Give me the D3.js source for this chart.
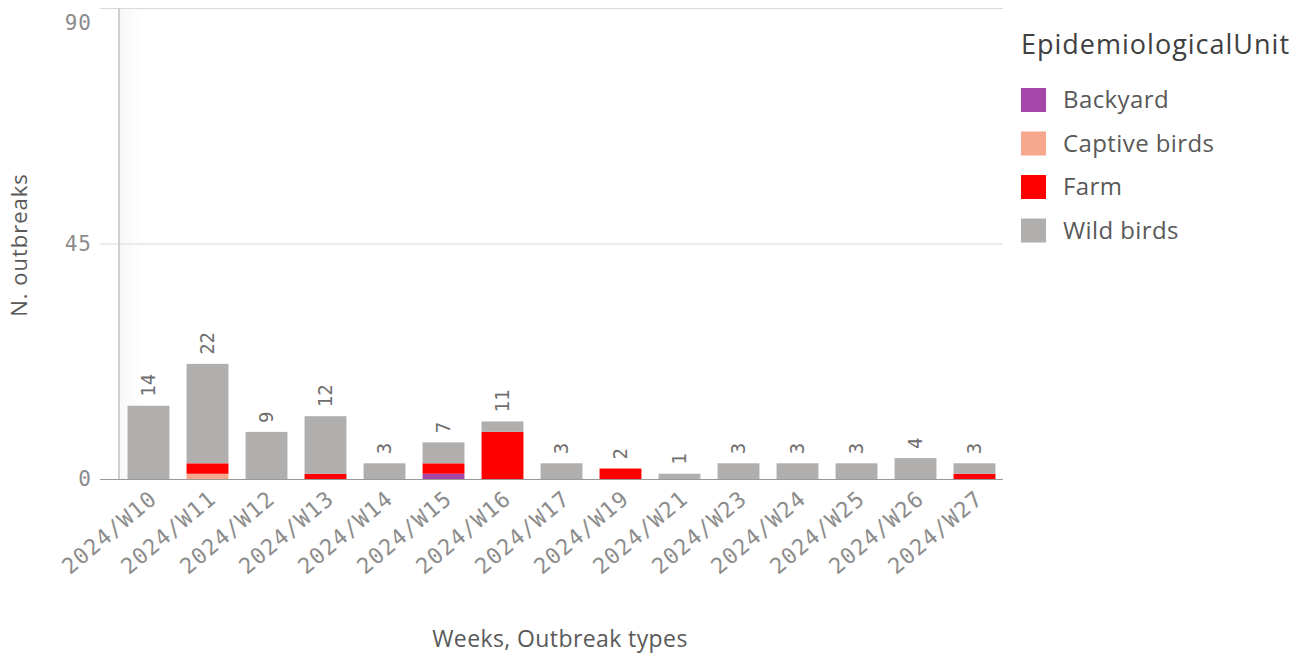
<!DOCTYPE html>
<html>
<head>
<meta charset="utf-8">
<script src="https://cdn.jsdelivr.net/npm/d3@7"></script>
<style>
  body { margin: 0; background: #fff; }
  svg { display: block; }
</style>
</head>
<body>
<svg width="1312" height="657"></svg>
<script>
// Weeks and outbreak counts per epidemiological unit
var weeks = ['2024/W10', '2024/W11', '2024/W12', '2024/W13', '2024/W14', '2024/W15', '2024/W16',
  '2024/W17', '2024/W19', '2024/W21', '2024/W23', '2024/W24', '2024/W25', '2024/W26', '2024/W27'];
var units = ['Backyard', 'Captive birds', 'Farm', 'Wild birds'];
var backyard = [0, 0, 0, 0, 0, 1, 0, 0, 0, 0, 0, 0, 0, 0, 0];
var captive  = [0, 1, 0, 0, 0, 0, 0, 0, 0, 0, 0, 0, 0, 0, 0];
var farm     = [0, 2, 0, 1, 0, 2, 9, 0, 2, 0, 0, 0, 0, 0, 1];
var wild     = [14, 19, 9, 11, 3, 4, 2, 3, 0, 1, 3, 3, 3, 4, 2];
var yTicks = [0, 45, 90];
var unitColors = ['#a546a8', '#f7a78b', '#ff0000', '#b0afae'];

var svg = d3.select('svg');
var monoFont = '"DejaVu Sans Mono", monospace';
var sansFont = '"Open Sans", sans-serif';

// Plot area
var plot = { left: 119, right: 1004, top: 8, bottom: 479 };

var rows = weeks.map(function(w, i) {
  return { week: w, 'Backyard': backyard[i], 'Captive birds': captive[i], 'Farm': farm[i], 'Wild birds': wild[i] };
});
var stack = d3.stack().keys(units)(rows);

var x = d3.scaleBand().domain(weeks)
  .range([plot.left, plot.right])
  .paddingInner(0.29).paddingOuter(0.145);
var y = d3.scaleLinear().domain([0, 90]).range([plot.bottom, plot.top]);
var color = d3.scaleOrdinal().domain(units).range(unitColors);

// Soft shadow inside the left edge
var grad = svg.append('defs').append('linearGradient').attr('id', 'shade');
grad.append('stop').attr('offset', '0%').attr('stop-color', '#000').attr('stop-opacity', 0.03);
grad.append('stop').attr('offset', '100%').attr('stop-color', '#000').attr('stop-opacity', 0);
svg.append('rect')
  .attr('x', plot.left).attr('y', plot.top)
  .attr('width', 26).attr('height', plot.bottom - plot.top)
  .attr('fill', 'url(#shade)');

// Y axis with grid lines
var yAxis = svg.append('g')
  .attr('transform', 'translate(' + plot.left + ',0)')
  .call(d3.axisLeft(y).tickValues(yTicks).tickSize(19).tickPadding(8));
yAxis.select('.domain').remove();
yAxis.selectAll('.tick line')
  .attr('x2', plot.right - plot.left - 1)
  .attr('x1', -19)
  .attr('stroke', function(d) { return d === 0 ? '#999' : '#d9d9d9'; });
yAxis.selectAll('.tick text')
  .attr('x', -27)
  .attr('dy', function(d) { return d === 90 ? '1.0em' : '0.32em'; })
  .style('font-family', monoFont).style('font-size', '21px')
  .style('letter-spacing', '1px')
  .attr('fill', '#8c8c8c');

// Vertical axis line
svg.append('line')
  .attr('x1', plot.left).attr('x2', plot.left)
  .attr('y1', plot.top).attr('y2', plot.bottom)
  .attr('stroke', '#d0d0d0').attr('stroke-width', 2);

// Stacked bars
svg.append('g').selectAll('g')
  .data(stack)
  .enter().append('g')
  .attr('fill', function(d) { return color(d.key); })
  .selectAll('rect')
  .data(function(d) { return d; })
  .enter().append('rect')
  .attr('x', function(d) { return x(d.data.week); })
  .attr('y', function(d) { return y(d[1]); })
  .attr('width', x.bandwidth())
  .attr('height', function(d) { return y(d[0]) - y(d[1]); });

// Totals above bars
svg.append('g').selectAll('text')
  .data(rows)
  .enter().append('text')
  .attr('transform', function(d) {
    var tot = d3.sum(units, function(k) { return d[k]; });
    return 'translate(' + (x(d.week) + x.bandwidth() / 2) + ',' + (y(tot) - 9) + ') rotate(-90)';
  })
  .attr('dy', '0.35em')
  .style('font-family', monoFont).style('font-size', '19px')
  .attr('fill', '#6e6e6e')
  .text(function(d) { return d3.sum(units, function(k) { return d[k]; }); });

// X labels, slanted
svg.append('g').selectAll('text')
  .data(weeks)
  .enter().append('text')
  .attr('transform', function(d) {
    return 'translate(' + (x(d) + x.bandwidth() / 2 + 10) + ',' + (plot.bottom + 22) + ') rotate(-40)';
  })
  .attr('text-anchor', 'end')
  .style('font-family', monoFont).style('font-size', '22px')
  .style('letter-spacing', '1.2px')
  .attr('fill', '#8c8c8c')
  .text(function(d) { return d; });

// Axis titles
svg.append('text')
  .attr('transform', 'translate(27,245) rotate(-90)')
  .attr('text-anchor', 'middle')
  .style('font-family', sansFont).style('font-size', '22px')
  .style('letter-spacing', '1px')
  .attr('fill', '#595959')
  .text('N. outbreaks');
svg.append('text')
  .attr('x', 560).attr('y', 647)
  .attr('text-anchor', 'middle')
  .style('font-family', sansFont).style('font-size', '23px')
  .style('letter-spacing', '0.4px')
  .attr('fill', '#595959')
  .text('Weeks, Outbreak types');

// Legend
var legend = svg.append('g').attr('transform', 'translate(1021,0)');
legend.append('text')
  .attr('x', 0).attr('y', 54)
  .style('font-family', sansFont).style('font-size', '27px')
  .style('letter-spacing', '1px')
  .attr('fill', '#404040')
  .text('EpidemiologicalUnit');
var item = legend.selectAll('g.item')
  .data(units)
  .enter().append('g')
  .attr('class', 'item')
  .attr('transform', function(d, i) { return 'translate(0,' + (100 + i * 43.5) + ')'; });
item.append('rect')
  .attr('x', 0).attr('y', -12)
  .attr('width', 25).attr('height', 24)
  .attr('fill', function(d) { return color(d); });
item.append('text')
  .attr('x', 42).attr('dy', '0.35em')
  .style('font-family', sansFont).style('font-size', '24px')
  .style('letter-spacing', '0.4px')
  .attr('fill', '#595959')
  .text(function(d) { return d; });
</script>
</body>
</html>
